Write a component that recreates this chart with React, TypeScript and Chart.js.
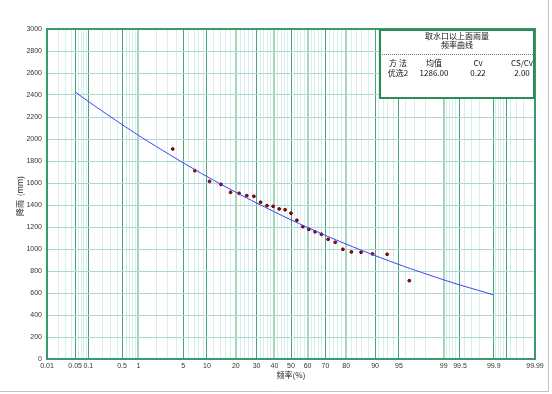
import React, { useEffect, useRef } from "react";
import { Chart, registerables, LinearScale } from "chart.js";

// ---- data ----
const majorTicks = [0.01, 0.05, 0.1, 0.5, 1, 5, 10, 20, 30, 40, 50, 60, 70, 80, 90, 95, 99, 99.5, 99.9, 99.95, 99.99];
const majorLabels = ["0.01", "0.05", "0.1", "0.5", "1", "5", "10", "20", "30", "40", "50", "60", "70", "80", "90", "95", "99", "99.5", "99.9", "", "99.99"];
const lightMajors = [1, 20, 40, 60, 80, 99];
const minorTicks = [
  0.02, 0.03, 0.04, 0.06, 0.07, 0.08, 0.09, 0.2, 0.3, 0.4, 0.6, 0.7, 0.8, 0.9,
  2, 3, 4, 6, 7, 8, 9, 12, 14, 16, 18, 22, 24, 26, 28, 32, 34, 36, 38, 42, 44, 46, 48,
  52, 54, 56, 58, 62, 64, 66, 68, 72, 74, 76, 78, 82, 84, 86, 88, 91, 92, 93, 94,
  96, 97, 98, 99.1, 99.2, 99.3, 99.4, 99.6, 99.7, 99.8, 99.91, 99.92, 99.93, 99.94,
  99.96, 99.97, 99.98,
];

// observed points: empirical frequency (%) and rainfall (mm)
const obsFreq = [3.57, 7.14, 10.71, 14.29, 17.86, 21.43, 25.0, 28.57, 32.14, 35.71, 39.29, 42.86, 46.43, 50.0, 53.57, 57.14, 60.71, 64.29, 67.86, 71.43, 75.0, 78.57, 82.14, 85.71, 89.29, 92.86, 96.43];
const obsValue = [1909, 1712, 1615, 1588, 1515, 1506, 1485, 1479, 1425, 1394, 1388, 1364, 1357, 1325, 1261, 1203, 1179, 1157, 1134, 1088, 1061, 997, 973, 970, 955, 952, 712];

// fitted frequency curve
const curveFreq = [0.05, 0.1, 0.2, 0.5, 1, 2, 5, 10, 20, 30, 40, 50, 60, 70, 80, 90, 95, 97, 99, 99.5, 99.9];
const curveValue = [2428, 2342, 2254, 2132, 2034, 1932, 1784, 1659, 1516, 1418, 1338, 1265, 1196, 1124, 1044, 940, 859, 809, 720, 673, 583];

const legendTitle1 = "取水口以上面雨量";
const legendTitle2 = "频率曲线";
const legendHeaders = ["方 法", "均值", "Cv", "CS/Cv"];
const legendValues = ["优选2", "1286.00", "0.22", "2.00"];

// ---- probability (normal) scale ----
function qnorm(p: number): number {
  const a = [-3.969683028665376e1, 2.209460984245205e2, -2.759285104469687e2, 1.38357751867269e2, -3.066479806614716e1, 2.506628277459239];
  const b = [-5.447609879822406e1, 1.615858368580409e2, -1.556989798598866e2, 6.680131188771972e1, -1.328068155288572e1];
  const c = [-7.784894002430293e-3, -3.223964580411365e-1, -2.400758277161838, -2.549732539343734, 4.374664141464968, 2.938163982698783];
  const d = [7.784695709041462e-3, 3.224671290700398e-1, 2.445134137142996, 3.754408661907416];
  const pl = 0.02425;
  let q: number, r: number;
  if (p < pl) {
    q = Math.sqrt(-2 * Math.log(p));
    return (((((c[0] * q + c[1]) * q + c[2]) * q + c[3]) * q + c[4]) * q + c[5]) / ((((d[0] * q + d[1]) * q + d[2]) * q + d[3]) * q + 1);
  } else if (p <= 1 - pl) {
    q = p - 0.5;
    r = q * q;
    return ((((((a[0] * r + a[1]) * r + a[2]) * r + a[3]) * r + a[4]) * r + a[5]) * q) / (((((b[0] * r + b[1]) * r + b[2]) * r + b[3]) * r + b[4]) * r + 1);
  } else {
    q = Math.sqrt(-2 * Math.log(1 - p));
    return -(((((c[0] * q + c[1]) * q + c[2]) * q + c[3]) * q + c[4]) * q + c[5]) / ((((d[0] * q + d[1]) * q + d[2]) * q + d[3]) * q + 1);
  }
}

class ProbabilityScale extends LinearScale {
  static id = "probability";
  static defaults = {};
  determineDataLimits() {
    (this as any).min = 0.01;
    (this as any).max = 99.99;
  }
  buildTicks() {
    const all = [...majorTicks, ...minorTicks].sort((x, y) => x - y);
    return all.map((v) => ({ value: v }));
  }
  getPixelForValue(value: number) {
    const self = this as any;
    const a = qnorm(self.min / 100);
    const b = qnorm(self.max / 100);
    return self.getPixelForDecimal((qnorm(value / 100) - a) / (b - a));
  }
  getValueForPixel(pixel: number) {
    return pixel;
  }
}

Chart.register(...registerables, ProbabilityScale as any);

const GREEN = "#45a577";
const FRAME = "#3a9a6a";

const framePlugin = {
  id: "framePlugin",
  afterDraw(chart: any) {
    const ctx = chart.ctx as CanvasRenderingContext2D;
    const { left, right, top, bottom } = chart.chartArea;
    ctx.save();
    // plot frame
    ctx.strokeStyle = FRAME;
    ctx.lineWidth = 2;
    ctx.strokeRect(left, top, right - left, bottom - top);

    // legend box
    const bx = 380, by = 30, bw = 154, bh = 68;
    ctx.fillStyle = "#ffffff";
    ctx.fillRect(bx, by, bw, bh);
    ctx.strokeStyle = "#2e8b57";
    ctx.lineWidth = 2;
    ctx.strokeRect(bx, by, bw, bh);
    ctx.fillStyle = "#111";
    ctx.textAlign = "center";
    ctx.textBaseline = "middle";
    ctx.font = "8px 'Noto Sans CJK SC', 'Liberation Sans', sans-serif";
    ctx.fillText(legendTitle1, 457, 36);
    ctx.fillText(legendTitle2, 457, 45);
    ctx.strokeStyle = "#777";
    ctx.lineWidth = 1;
    ctx.setLineDash([1, 1]);
    ctx.beginPath();
    ctx.moveTo(382, 54.5);
    ctx.lineTo(533, 54.5);
    ctx.stroke();
    ctx.setLineDash([]);
    const cols = [398, 434, 478, 522];
    legendHeaders.forEach((t, i) => ctx.fillText(t, cols[i], 63));
    legendValues.forEach((t, i) => ctx.fillText(t, cols[i], 72.5));

    // axis titles
    ctx.font = "8px 'Noto Sans CJK SC', 'Liberation Sans', sans-serif";
    ctx.fillStyle = "#222";
    ctx.fillText("频率(%)", 291, 375);
    ctx.save();
    ctx.translate(20, 196);
    ctx.rotate(-Math.PI / 2);
    ctx.fillText("降雨  (mm)", 0, 0);
    ctx.restore();

    // outer window edge
    ctx.strokeStyle = "#c4c4bc";
    ctx.lineWidth = 1;
    ctx.beginPath();
    ctx.moveTo(548.5, 0);
    ctx.lineTo(548.5, 391.5);
    ctx.lineTo(0, 391.5);
    ctx.stroke();
    ctx.restore();
  },
};

export default function App() {
  const ref = useRef<HTMLCanvasElement>(null);
  useEffect(() => {
    if (!ref.current) return;
    const labelMap = new Map<number, string>();
    majorTicks.forEach((v, i) => labelMap.set(v, majorLabels[i]));
    const chart = new Chart(ref.current, {
      type: "scatter",
      data: {
        datasets: [
          {
            type: "line",
            data: curveFreq.map((p, i) => ({ x: p, y: curveValue[i] })),
            borderColor: "#4040ff",
            borderWidth: 1,
            pointRadius: 0,
            tension: 0.3,
            fill: false,
          } as any,
          {
            data: obsFreq.map((p, i) => ({ x: p, y: obsValue[i] })),
            backgroundColor: "#b00000",
            borderColor: "#600000",
            borderWidth: 1,
            pointRadius: 1.4,
            pointStyle: "circle",
          },
        ],
      },
      options: {
        animation: false,
        responsive: false,
        devicePixelRatio: 1,
        layout: { padding: { left: 0, top: 29, right: 17, bottom: 0 } },
        plugins: { legend: { display: false }, tooltip: { enabled: false } },
        scales: {
          x: {
            type: "probability" as any,
            position: "bottom",
            afterFit: (s: any) => {
              s.height = 35;
            },
            border: { display: true, color: FRAME, width: 2 },
            grid: {
              drawTicks: false,
              color: (c: any) => {
                const v = c.tick ? c.tick.value : 0;
                if (labelMap.has(v)) return lightMajors.includes(v) ? "#a3d6bb" : GREEN;
                return "#d6eeee";
              },
              lineWidth: (c: any) => {
                const v = c.tick ? c.tick.value : 0;
                if (labelMap.has(v) && lightMajors.includes(v)) return 2;
                return 1;
              },
            },
            ticks: {
              autoSkip: false,
              maxRotation: 0,
              padding: 3,
              color: "#333",
              font: { size: 7, family: "'Liberation Sans', sans-serif" },
              callback: (v: any) => (labelMap.has(v) ? labelMap.get(v) : ""),
            },
          } as any,
          y: {
            type: "linear",
            min: 0,
            max: 3000,
            afterFit: (s: any) => {
              s.width = 47;
            },
            border: { display: true, color: FRAME, width: 2 },
            grid: { drawTicks: false, color: "#acd8d0", lineWidth: 1 },
            ticks: {
              stepSize: 200,
              padding: 5,
              color: "#333",
              font: { size: 7, family: "'Liberation Sans', sans-serif" },
              callback: (v: any) => String(v),
            },
          },
        },
      },
      plugins: [framePlugin],
    } as any);
    return () => chart.destroy();
  }, []);
  return (
    <div style={{ position: "fixed", left: 0, top: 0, width: 552, height: 394, background: "#fff" }}>
      <canvas ref={ref} width={552} height={394} style={{ width: 552, height: 394 }} />
    </div>
  );
}
